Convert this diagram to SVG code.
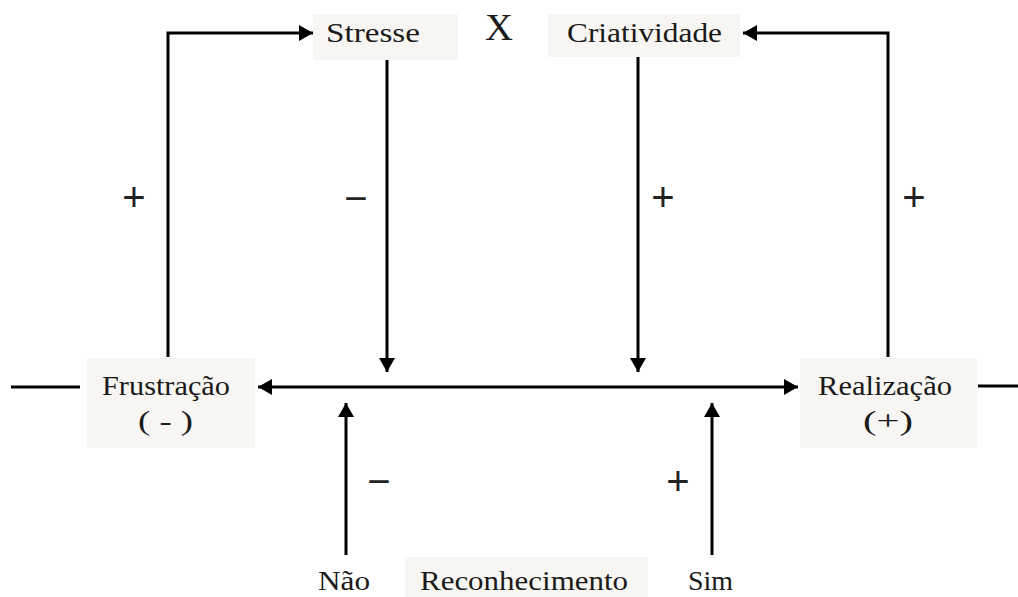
<svg xmlns="http://www.w3.org/2000/svg" width="1018" height="597" viewBox="0 0 1018 597">
<style>
.box{fill:#f8f6f2;stroke:none}
.t{font-family:"Liberation Serif","DejaVu Serif",serif;font-size:27px;fill:#1a1a1a}
.s{font-family:"Liberation Sans","DejaVu Sans",sans-serif;font-size:40px;fill:#222;text-anchor:middle}
.ln{stroke:#000;stroke-width:3;fill:none}
</style>
<defs>
<marker id="ah" viewBox="0 0 14 16" refX="14" refY="8" markerWidth="14" markerHeight="16" markerUnits="userSpaceOnUse" orient="auto">
<path d="M0,0 L14,8 L0,16 Z" fill="#000"/>
</marker>
</defs>
<rect width="1018" height="597" fill="#fff"/>
<g id="stresse"><rect class="box" x="313" y="14" width="145" height="46"/><text class="t" x="326" y="42" textLength="94" lengthAdjust="spacingAndGlyphs">Stresse</text></g>
<g id="x"><text class="t" x="485" y="40" style="font-size:37px" textLength="28" lengthAdjust="spacingAndGlyphs">X</text></g>
<g id="criatividade"><rect class="box" x="548" y="14" width="192" height="43"/><text class="t" x="567" y="42" textLength="155" lengthAdjust="spacingAndGlyphs">Criatividade</text></g>
<g id="frustracao"><rect class="box" x="87" y="358" width="168" height="90"/><text class="t" x="102" y="395" textLength="128" lengthAdjust="spacingAndGlyphs">Frustração</text><text class="t" x="138" y="430" textLength="55" lengthAdjust="spacingAndGlyphs">( - )</text></g>
<g id="realizacao"><rect class="box" x="800" y="358" width="177" height="90"/><text class="t" x="818" y="395" textLength="134" lengthAdjust="spacingAndGlyphs">Realização</text><text class="t" x="863" y="430" textLength="50" lengthAdjust="spacingAndGlyphs">(+)</text></g>
<g id="reconhecimento"><rect class="box" x="405" y="557" width="243" height="40"/><text class="t" x="420" y="590" textLength="208" lengthAdjust="spacingAndGlyphs">Reconhecimento</text></g>
<g id="nao"><text class="t" x="318" y="590" textLength="52" lengthAdjust="spacingAndGlyphs">Não</text></g>
<g id="sim"><text class="t" x="688" y="590" textLength="45" lengthAdjust="spacingAndGlyphs">Sim</text></g>
<g id="connectors">
<path class="ln" d="M168,357 V33 H313" marker-end="url(#ah)"/>
<path class="ln" d="M888,357 V33 H743" marker-end="url(#ah)"/>
<path class="ln" d="M387,60 V372" marker-end="url(#ah)"/>
<path class="ln" d="M638,57 V372" marker-end="url(#ah)"/>
<path class="ln" d="M528,387 H258" marker-end="url(#ah)"/>
<path class="ln" d="M528,387 H798" marker-end="url(#ah)"/>
<path class="ln" d="M346,555 V403" marker-end="url(#ah)"/>
<path class="ln" d="M712,555 V403" marker-end="url(#ah)"/>
<path class="ln" d="M11,387 H80"/>
<path class="ln" d="M978,386 H1018"/>
</g>
<g id="signs">
<text class="s" x="134" y="211">+</text>
<text class="s" x="356" y="212">−</text>
<text class="s" x="663" y="211">+</text>
<text class="s" x="914" y="211">+</text>
<text class="s" x="379" y="495">−</text>
<text class="s" x="678" y="495">+</text>
</g>
</svg>
